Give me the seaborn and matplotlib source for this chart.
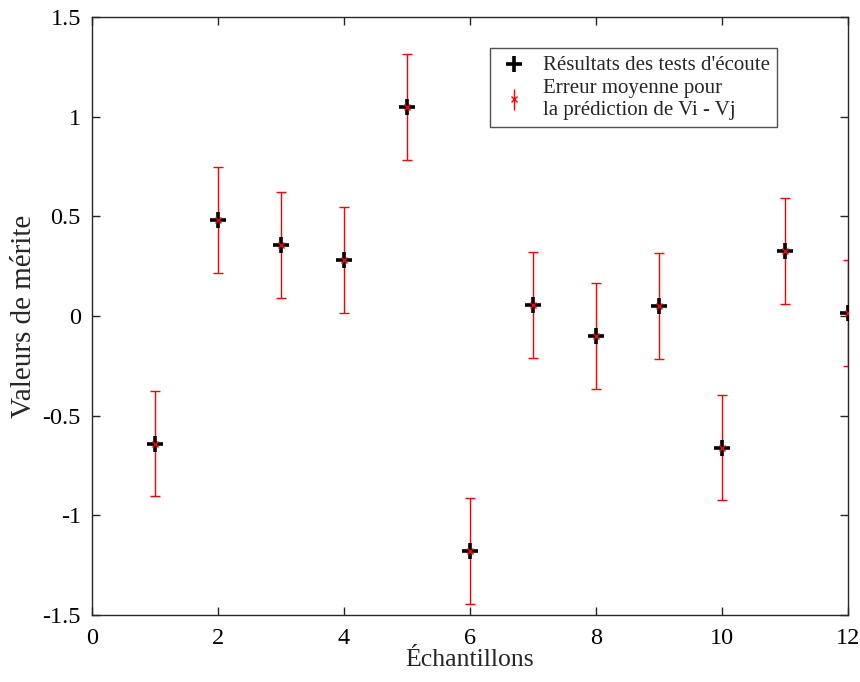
import matplotlib
matplotlib.use("Agg")
import matplotlib.pyplot as plt
import seaborn as sns
import pandas as pd

echantillons = [1, 2, 3, 4, 5, 6, 7, 8, 9, 10, 11, 12]
valeurs = [-0.64, 0.48, 0.355, 0.28, 1.05, -1.18, 0.055, -0.10, 0.05, -0.66, 0.325, 0.015]
erreurs = [0.265, 0.265, 0.265, 0.265, 0.265, 0.265, 0.265, 0.265, 0.265, 0.265, 0.265, 0.265]

df = pd.DataFrame({"x": echantillons, "y": valeurs, "err": erreurs})

sns.set_theme(style="white")
plt.rcParams['font.family'] = ['Liberation Serif', 'DejaVu Serif']

fig = plt.figure(figsize=(8.6, 6.82), dpi=100)
ax = fig.add_axes([92/860, 1 - 615/682, (848-92)/860, (615-17)/682])

ax.errorbar(df["x"], df["y"], yerr=df["err"], fmt='none', ecolor='#ff0000',
            elinewidth=1.0, capsize=3.8, capthick=1.0, zorder=2)
sns.scatterplot(data=df, x="x", y="y", marker='+', s=140, color='black',
                linewidth=2.6, ax=ax, zorder=3, label="Résultats des tests d'écoute")
ax.plot(df["x"], df["y"], linestyle='none', marker='x', markersize=5,
        markeredgewidth=1.0, color='#ff0000', zorder=4)

ax.errorbar([], [], yerr=[], fmt='x', color='#ff0000', ecolor='#ff0000',
            markersize=5, elinewidth=1.0, capsize=3.8, capthick=1.0,
            label="Erreur moyenne pour\nla prédiction de Vi - Vj")

ax.set_xlim(0, 12)
ax.set_ylim(-1.5, 1.5)
ax.set_xticks([0, 2, 4, 6, 8, 10, 12])
ax.set_yticks([-1.5, -1, -0.5, 0, 0.5, 1, 1.5])
ax.set_xticklabels(["0", "2", "4", "6", "8", "10", "12"])
ax.set_yticklabels(["-1.5", "-1", "-0.5", "0", "0.5", "1", "1.5"])
ax.tick_params(direction='in', length=6, width=1, top=True, right=True,
               bottom=True, left=True, labelsize=17.5, colors='#262626',
               labelcolor='black')
ax.tick_params(axis='x', pad=9)
ax.tick_params(axis='y', pad=8)
for sp in ax.spines.values():
    sp.set_visible(True)
    sp.set_color('#262626')
    sp.set_linewidth(1.0)

ax.set_xlabel("Échantillons", fontsize=18.5, labelpad=0)
ax.set_ylabel("Valeurs de mérite", fontsize=21, labelpad=4)

h, l = ax.get_legend_handles_labels()
order = [l.index("Résultats des tests d'écoute"), l.index("Erreur moyenne pour\nla prédiction de Vi - Vj")]
leg = ax.legend([h[i] for i in order], [l[i] for i in order],
                loc='upper left', bbox_to_anchor=((490-92)/756, 1 - (48-17)/598),
                fontsize=15, frameon=True, fancybox=False, edgecolor='#262626',
                borderpad=0.35, handletextpad=0.6, labelspacing=0.2,
                handlelength=1.6, borderaxespad=0)
leg.get_frame().set_linewidth(1.0)

fig.savefig("out.png", dpi=100)
